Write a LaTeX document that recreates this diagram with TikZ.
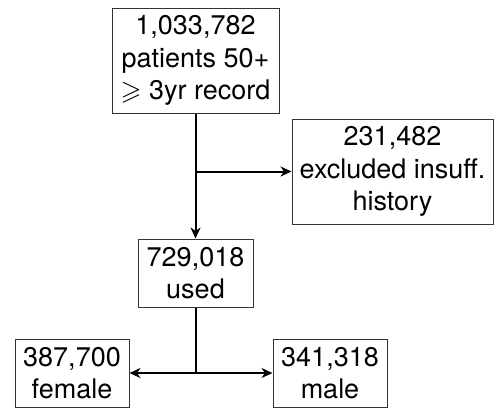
\documentclass[tikz,border=0pt]{standalone}
\usepackage{amssymb}
\usepackage{fontspec}
\setmainfont{TeX Gyre Heros}
\usetikzlibrary{arrows.meta}
\begin{document}
\begin{tikzpicture}[x=1pt,y=-1pt,
  box/.style={draw=black!80, line width=1pt, inner sep=0pt, align=center,
    font=\fontsize{27}{32.5}\selectfont},
  bigbox/.style={box, minimum height=105pt},
  smallbox/.style={box, minimum width=114pt, minimum height=68pt},
  line/.style={line width=2pt},
  conn/.style={line, -{Stealth[length=11pt,width=10pt,inset=3.5pt]}}]
\useasboundingbox (0,0) rectangle (494,408);
\node[bigbox, minimum width=167pt] (top) at (195.5,60.5)
  {1,033,782\\patients 50+\\$\geqslant$ 3yr record};
\node[bigbox, minimum width=201pt] (exc) at (392.5,171.5)
  {231,482\\excluded insuff.\\history};
\node[smallbox, minimum width=115pt, minimum height=68pt] (used) at (195.5,273)
  {729,018\\used};
\node[smallbox] (fem) at (72,373) {387,700\\female};
\node[smallbox] (male) at (330,373) {341,318\\male};
\coordinate (j1) at (top.south |- exc.west);
\coordinate (j2) at (used.south |- fem.east);
\draw[conn] (top.south) -- (used.north);
\draw[conn] (j1) -- (exc.west);
\draw[line] (used.south) -- (j2);
\draw[conn] (j2) -- (fem.east);
\draw[conn] (j2) -- (male.west);
\end{tikzpicture}
\end{document}
